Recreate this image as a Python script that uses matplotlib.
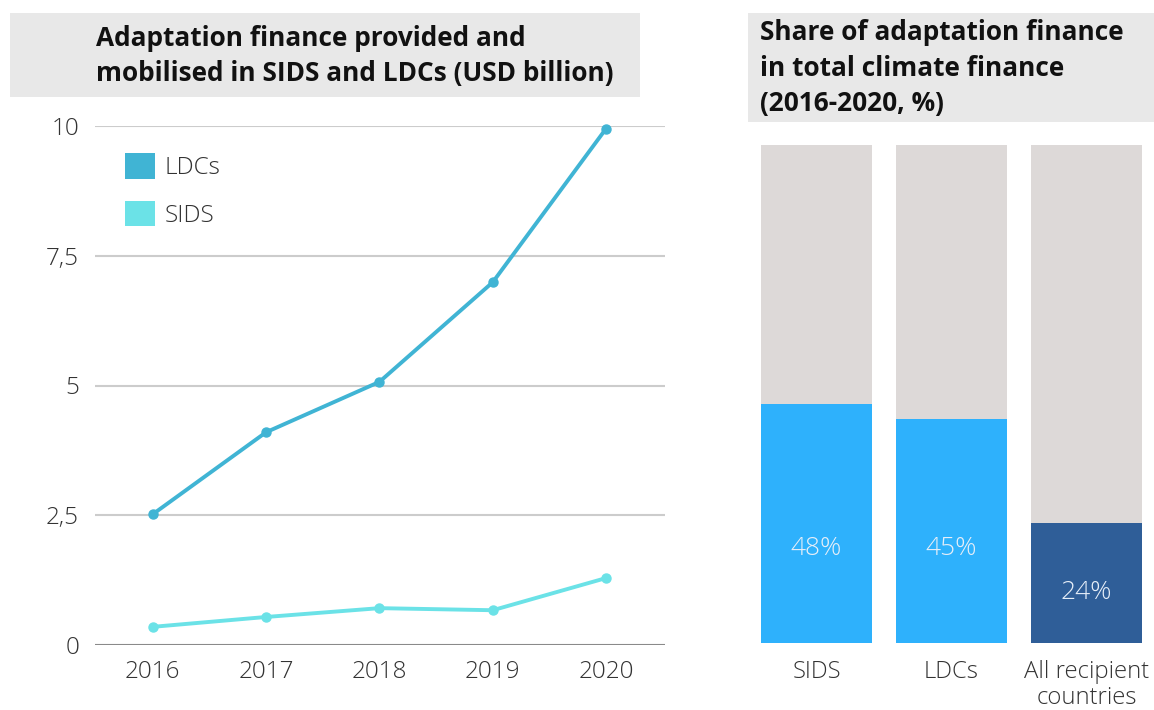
import matplotlib
matplotlib.use("Agg")
import matplotlib.pyplot as plt
from matplotlib.patches import Patch, Rectangle

plt.rcParams['font.family'] = ['Open Sans', 'DejaVu Sans']

# ---- data ----
years = [2016, 2017, 2018, 2019, 2020]
ldcs = [2.52, 4.1, 5.07, 6.99, 9.95]
sids = [0.35, 0.54, 0.71, 0.67, 1.29]
y_ticks = [0, 2.5, 5, 7.5, 10]
y_tick_labels = ["0", "2,5", "5", "7,5", "10"]

share_cats = ["SIDS", "LDCs", "All recipient\ncountries"]
share_vals = [48, 45, 24]
share_labels = ["48%", "45%", "24%"]

left_title = "Adaptation finance provided and\nmobilised in SIDS and LDCs (USD billion)"
right_title = "Share of adaptation finance\nin total climate finance\n(2016-2020, %)"

ldc_col = "#40b4d4"
sids_col = "#6be2e7"
bar_bg = "#ddd9d8"
bar_cols = ["#2eb1fc", "#2eb1fc", "#2f5e98"]
text_col = "#333333"

W, H = 1154, 710
fig = plt.figure(figsize=(W / 100, H / 100), dpi=100)

def fx(px):
    return px / W

def fy(py):
    return 1 - py / H

# title boxes
fig.patches.append(Rectangle((fx(10), fy(97)), fx(630), (97 - 13) / H, transform=fig.transFigure,
                             facecolor="#e8e8e8", edgecolor="none", zorder=0))
fig.patches.append(Rectangle((fx(748), fy(122)), fx(406), (122 - 13) / H, transform=fig.transFigure,
                             facecolor="#e8e8e8", edgecolor="none", zorder=0))
fig.text(fx(96), fy(56), left_title, fontsize=18.9, fontweight="bold", color="#111111",
         va="center", ha="left", linespacing=1.4)
fig.text(fx(760), fy(68), right_title, fontsize=18.9, fontweight="bold", color="#111111",
         va="center", ha="left", linespacing=1.4)

# ---- left line chart ----
ax = fig.add_axes([fx(95), fy(645), fx(665 - 95), (645 - 126) / H])
ax.set_xlim(2015.49, 2020.52)
ax.set_ylim(0, 10)
for t in y_ticks:
    ax.axhline(t, color="#8a8a8a" if t == 0 else "#cccccc", lw=1.5, zorder=1)
ax.plot(years, ldcs, color=ldc_col, lw=2.8, marker="o", ms=6.5, clip_on=False, zorder=3)
ax.plot(years, sids, color=sids_col, lw=2.8, marker="o", ms=6.5, clip_on=False, zorder=3)
for s in ax.spines.values():
    s.set_visible(False)
ax.set_yticks(y_ticks)
ax.set_yticklabels(y_tick_labels)
ax.set_xticks(years)
ax.set_xticklabels([str(y) for y in years])
ax.tick_params(length=0, labelsize=17.5, labelcolor=text_col, pad=11)
ax.tick_params(axis="y", pad=11.5)
for lab in ax.get_xticklabels() + ax.get_yticklabels():
    lab.set_fontweight("light")
leg = ax.legend(handles=[Patch(facecolor=ldc_col, label="LDCs"), Patch(facecolor=sids_col, label="SIDS")],
                loc="upper left", bbox_to_anchor=(fx(103), fy(131)), bbox_transform=fig.transFigure,
                frameon=False, fontsize=17.5, handlelength=1.25, handleheight=1.25,
                labelspacing=0.85, handletextpad=0.4, labelcolor=text_col)
for t in leg.get_texts():
    t.set_fontweight("light")

# ---- right bar chart ----
bx = fig.add_axes([fx(749), fy(643), fx(405), (643 - 145) / H])
bx.set_xlim(-0.5, 2.5)
bx.set_ylim(0, 100)
xs = list(range(len(share_cats)))
bx.bar(xs, [100] * len(xs), width=0.815, color=bar_bg, zorder=1)
bx.bar(xs, share_vals, width=0.815, color=bar_cols, zorder=2)
label_y = [19, 19, 10.2]
for x, ly, lab in zip(xs, label_y, share_labels):
    bx.text(x, ly, lab, ha="center", va="center", fontsize=19, color="#e6eef8", fontweight="light")
for s in bx.spines.values():
    s.set_visible(False)
bx.set_yticks([])
bx.set_xticks(xs)
bx.set_xticklabels(share_cats, linespacing=1.15)
bx.tick_params(length=0, labelsize=17.2, labelcolor=text_col, pad=12)
for lab in bx.get_xticklabels():
    lab.set_fontweight("light")
    lab.set_va("top")

fig.savefig("out.png", dpi=100)
